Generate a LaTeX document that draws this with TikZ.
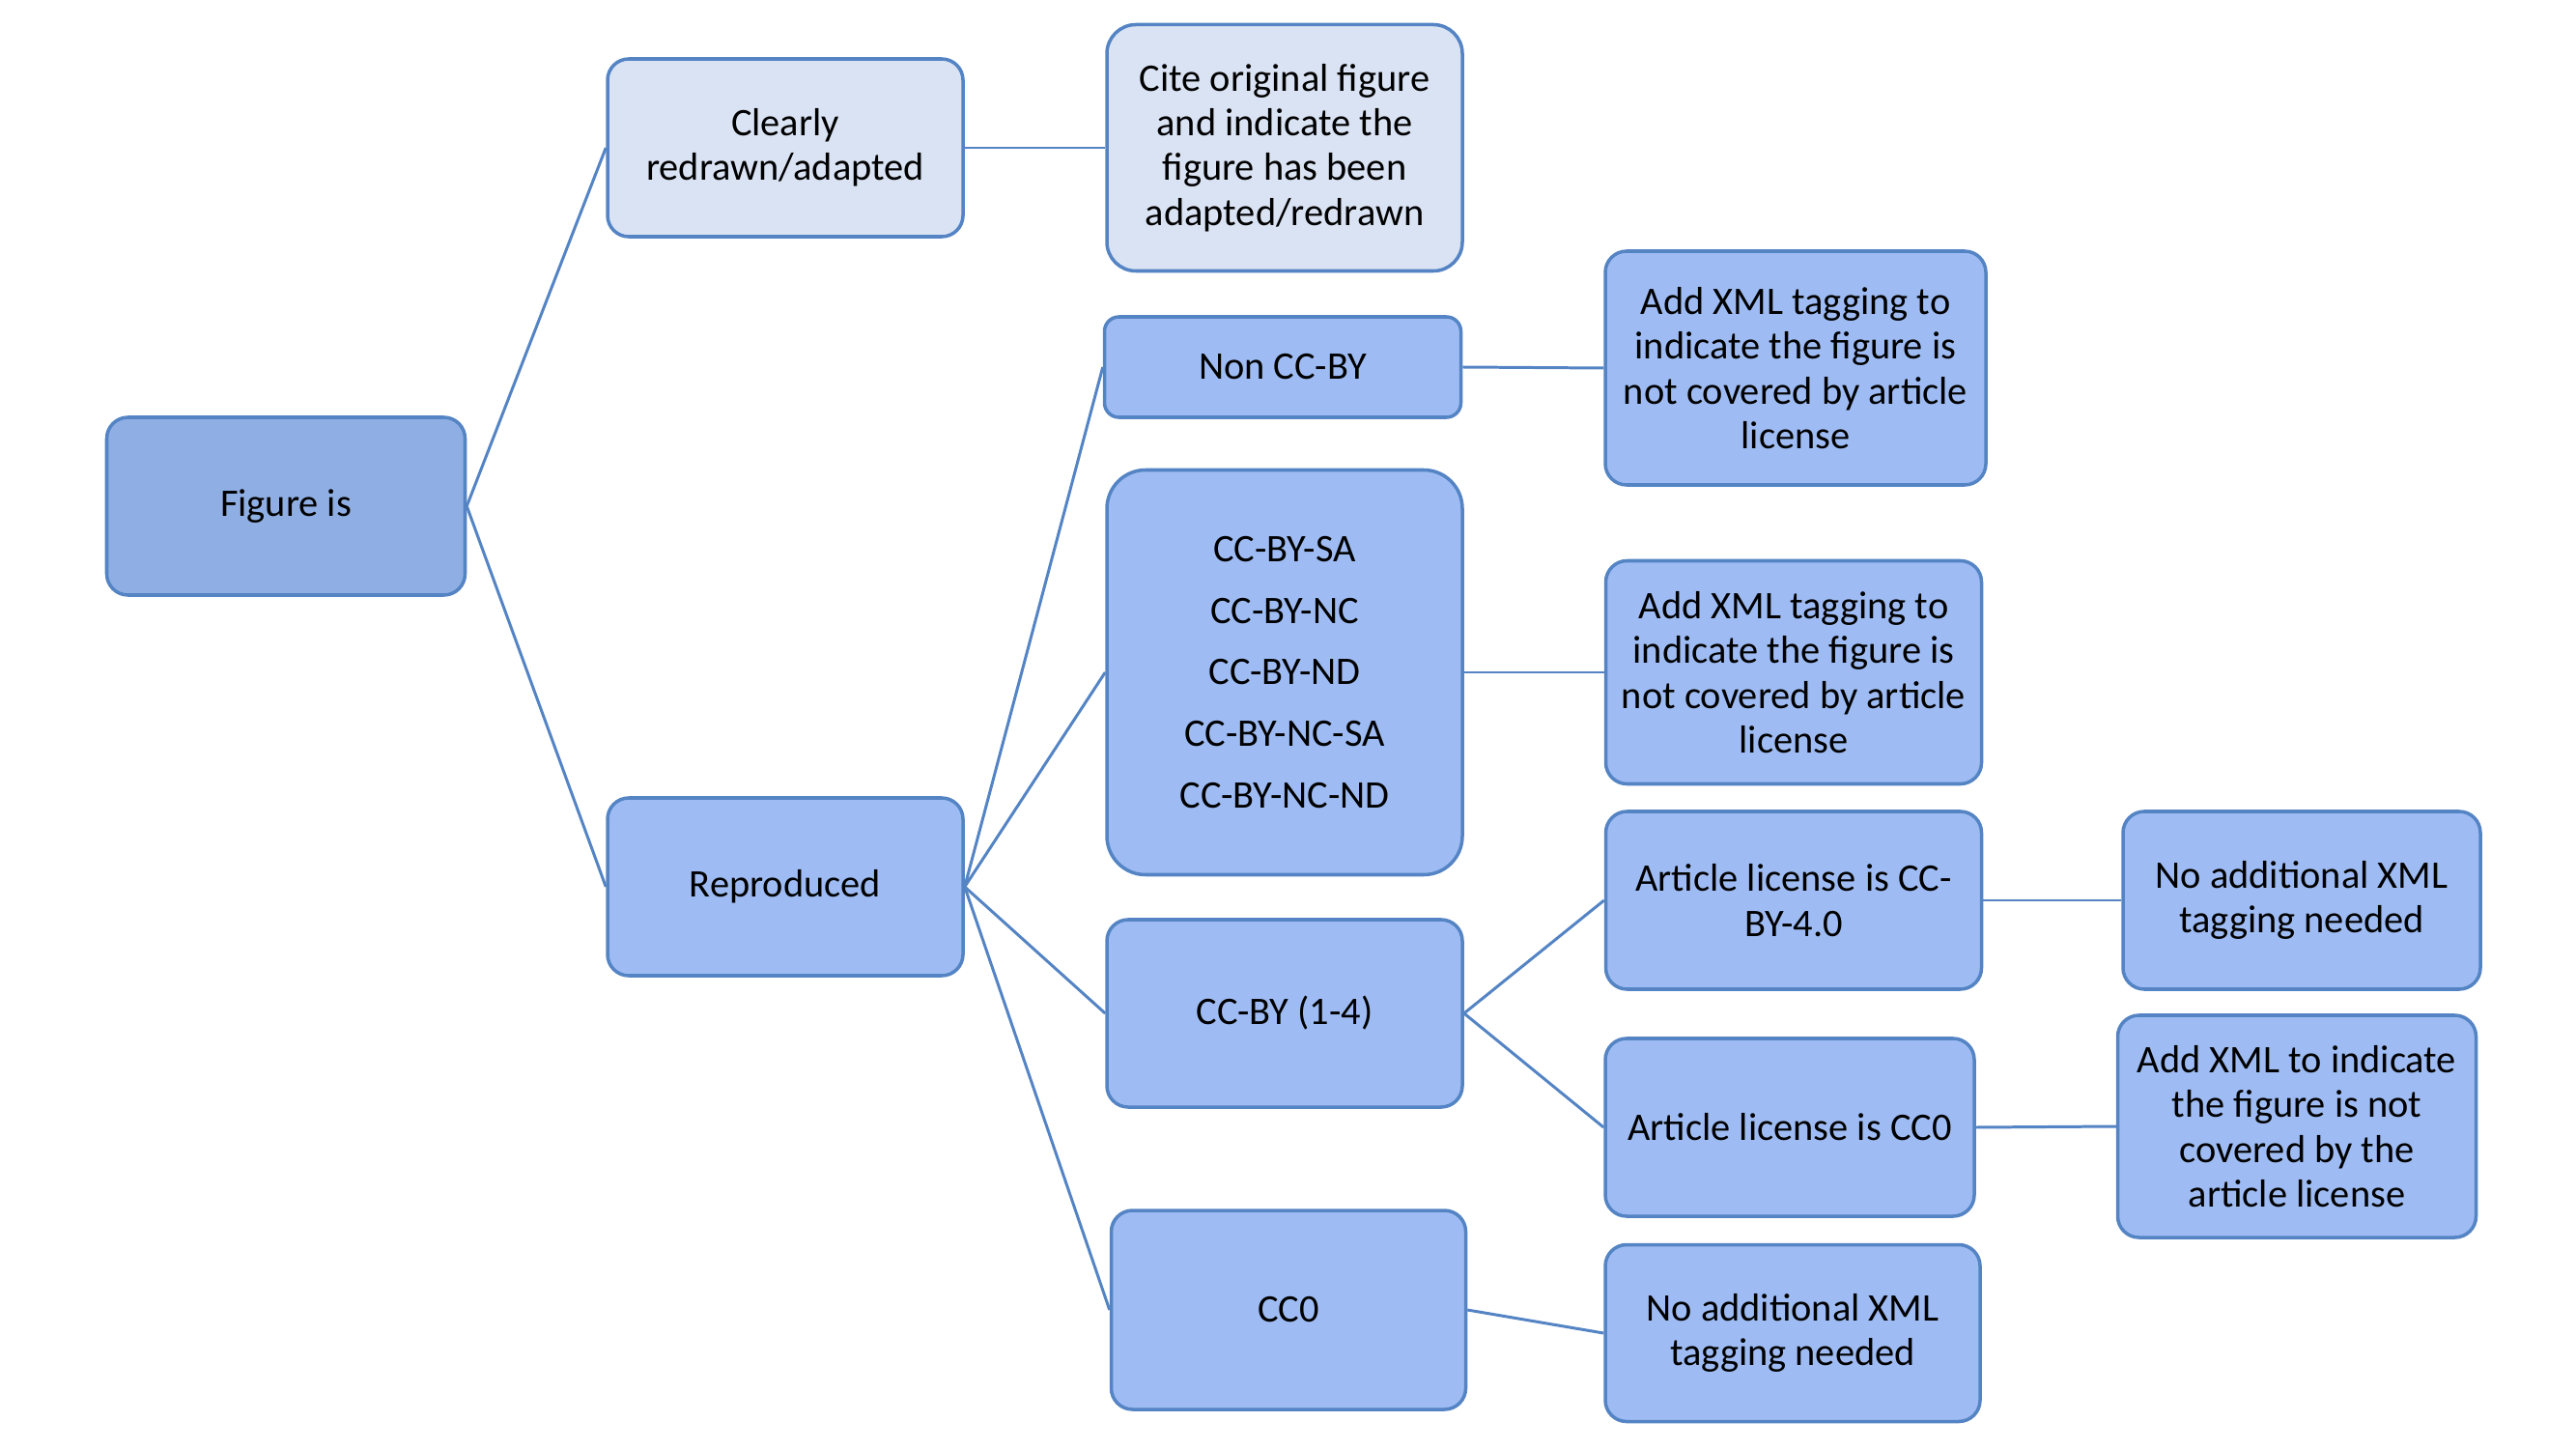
\documentclass[tikz,border=0pt]{standalone}
\usepackage{fontspec}
\setmainfont{Carlito}
\usepackage{tikz}

\definecolor{edgeblue}{RGB}{84,132,196}
\definecolor{rootfill}{RGB}{143,175,228}
\definecolor{lightfill}{RGB}{218,227,243}
\definecolor{midfill}{RGB}{158,188,243}

\begin{document}
\begin{tikzpicture}
			[align=center, font=\fontsize{11.5}{13.2}\selectfont,
			box/.style ={rectangle, draw=edgeblue, line width=1pt, fill=midfill, inner sep=0pt, rounded corners=0.22cm, minimum width=3.68cm, minimum height=1.84cm},
			rootbox/.style ={box, fill=rootfill},
			palebox/.style ={box, fill=lightfill},
			link/.style ={draw=edgeblue, line width=0.85pt}];
			\useasboundingbox (0,0) rectangle (26.67,15);
			% first two levels
			\node [rootbox, minimum width=3.71cm] (figure) at (2.96,9.76) {Figure is};
			\node [palebox] (clearly) at (8.13,13.47) {Clearly\\redrawn/adapted};
			\node [box] (reproduced) at (8.13,5.82) {Reproduced};
			% third level
			\node [palebox, minimum height=2.55cm, rounded corners=0.3cm] (cite) at (13.30,13.47) {Cite original figure\\and indicate the\\figure has been\\adapted/redrawn};
			\node [box, minimum width=3.69cm, minimum height=1.04cm, rounded corners=0.15cm] (nonccby) at (13.28,11.20) {Non CC-BY};
			\node [box, minimum height=4.19cm, rounded corners=0.4cm] (cclist) at (13.30,8.04) {CC-BY-SA\\[5pt] CC-BY-NC\\[5pt] CC-BY-ND\\[5pt] CC-BY-NC-SA\\[5pt] CC-BY-NC-ND};
			\node [box, minimum height=1.94cm] (ccby) at (13.30,4.51) {CC-BY (1-4)};
			\node [box, minimum width=3.67cm, minimum height=2.06cm] (cczero) at (13.34,1.44) {CC0};
			% fourth level
			\node [box, minimum width=3.94cm, minimum height=2.42cm] (tagnonccby) at (18.59,11.19) {Add XML tagging to\\indicate the figure is\\not covered by article\\license};
			\node [box, minimum width=3.89cm, minimum height=2.31cm] (tagcclist) at (18.57,8.04) {Add XML tagging to\\indicate the figure is\\not covered by article\\license};
			\node [box, minimum width=3.89cm] (artccby) at (18.57,5.68) {Article license is CC-\\BY-4.0};
			\node [box, minimum width=3.82cm] (artcczero) at (18.53,3.33) {Article license is CC0};
			\node [box, minimum width=3.88cm, minimum height=1.83cm] (notagcczero) at (18.56,1.20) {No additional XML\\tagging needed};
			% fifth level
			\node [box, minimum width=3.70cm] (notagccby) at (23.83,5.68) {No additional XML\\tagging needed};
			\node [box, minimum width=3.71cm, minimum height=2.30cm] (tagcczero) at (23.78,3.34) {Add XML to indicate\\the figure is not\\covered by the\\article license};
			% connectors
			\draw [link] (figure.east) -- (clearly.west);
			\draw [link] (figure.east) -- (reproduced.west);
			\draw [link] (clearly.east) -- (cite.west);
			\draw [link] (reproduced.east) -- (nonccby.west);
			\draw [link] (reproduced.east) -- (cclist.west);
			\draw [link] (reproduced.east) -- (ccby.west);
			\draw [link] (reproduced.east) -- (cczero.west);
			\draw [link] (nonccby.east) -- (tagnonccby.west);
			\draw [link] (cclist.east) -- (tagcclist.west);
			\draw [link] (ccby.east) -- (artccby.west);
			\draw [link] (ccby.east) -- (artcczero.west);
			\draw [link] (cczero.east) -- (notagcczero.west);
			\draw [link] (artccby.east) -- (notagccby.west);
			\draw [link] (artcczero.east) -- (tagcczero.west);
		\end{tikzpicture}
\end{document}
